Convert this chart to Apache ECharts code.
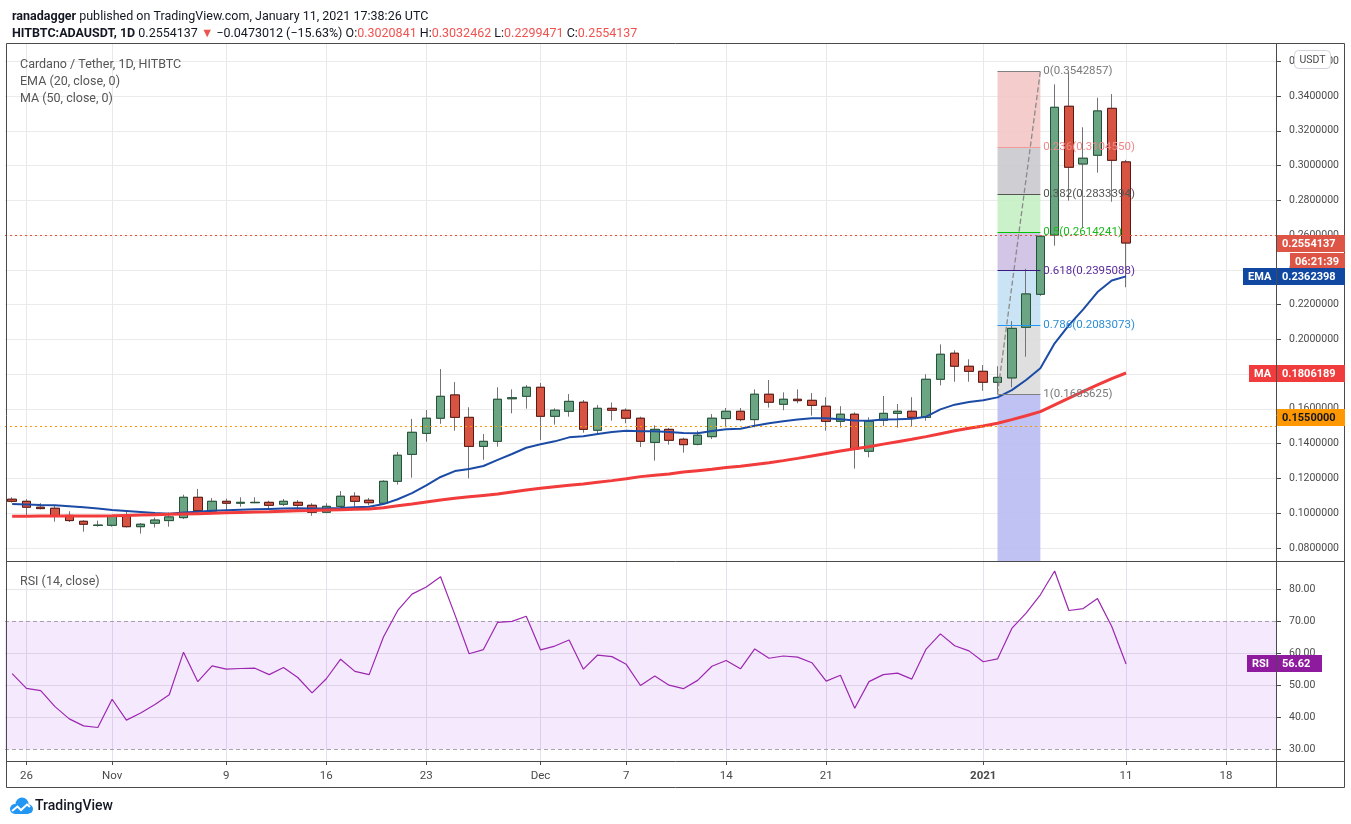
<!DOCTYPE html>
<html><head><meta charset="utf-8">
<script src="https://cdn.jsdelivr.net/npm/echarts@6/dist/echarts.min.js"></script>
<style>html,body{margin:0;padding:0;background:#fff}#c{width:1351px;height:824px}</style>
</head><body><div id="c"></div>
<script>
const dates = [
'2020-10-25','2020-10-26','2020-10-27','2020-10-28','2020-10-29','2020-10-30','2020-10-31',
'2020-11-01','2020-11-02','2020-11-03','2020-11-04','2020-11-05','2020-11-06','2020-11-07','2020-11-08','2020-11-09','2020-11-10',
'2020-11-11','2020-11-12','2020-11-13','2020-11-14','2020-11-15','2020-11-16','2020-11-17','2020-11-18','2020-11-19','2020-11-20',
'2020-11-21','2020-11-22','2020-11-23','2020-11-24','2020-11-25','2020-11-26','2020-11-27','2020-11-28','2020-11-29','2020-11-30',
'2020-12-01','2020-12-02','2020-12-03','2020-12-04','2020-12-05','2020-12-06','2020-12-07','2020-12-08','2020-12-09','2020-12-10',
'2020-12-11','2020-12-12','2020-12-13','2020-12-14','2020-12-15','2020-12-16','2020-12-17','2020-12-18','2020-12-19','2020-12-20',
'2020-12-21','2020-12-22','2020-12-23','2020-12-24','2020-12-25','2020-12-26','2020-12-27','2020-12-28','2020-12-29','2020-12-30','2020-12-31',
'2021-01-01','2021-01-02','2021-01-03','2021-01-04','2021-01-05','2021-01-06','2021-01-07','2021-01-08','2021-01-09','2021-01-10',
'2021-01-11','2021-01-12','2021-01-13','2021-01-14','2021-01-15','2021-01-16','2021-01-17','2021-01-18','2021-01-19','2021-01-20','2021-01-21'
];
const candleOpen = [0.1080,0.1068,0.1034,0.1028,0.0987,0.0953,0.0929,0.0930,0.0982,0.0922,0.0942,0.0957,0.0974,0.1091,0.1011,0.1068,0.1057,0.1060,0.1062,0.1051,0.1062,0.1045,0.1005,0.1039,0.1097,0.1074,0.1057,0.1183,0.1338,0.1459,0.1546,0.1680,0.1551,0.1384,0.1413,0.1658,0.1672,0.1724,0.1557,0.1586,0.1638,0.1477,0.1603,0.1592,0.1546,0.1407,0.1482,0.1425,0.1396,0.1440,0.1544,0.1586,0.1538,0.1684,0.1626,0.1655,0.1649,0.1615,0.1528,0.1569,0.1356,0.1534,0.1574,0.1586,0.1551,0.1770,0.1920,0.1845,0.1816,0.1753,0.1778,0.2069,0.2259,0.2600,0.3341,0.3009,0.3059,0.3329,0.3020841];
const candleClose = [0.1068,0.1034,0.1026,0.0985,0.0957,0.0936,0.0931,0.0982,0.0922,0.0936,0.0960,0.0978,0.1091,0.1014,0.1068,0.1057,0.1062,0.1062,0.1045,0.1068,0.1045,0.1005,0.1039,0.1097,0.1068,0.1060,0.1183,0.1333,0.1465,0.1546,0.1672,0.1551,0.1384,0.1413,0.1655,0.1664,0.1724,0.1557,0.1592,0.1643,0.1482,0.1603,0.1592,0.1546,0.1413,0.1482,0.1419,0.1394,0.1448,0.1546,0.1586,0.1538,0.1684,0.1638,0.1655,0.1647,0.1620,0.1528,0.1569,0.1367,0.1528,0.1574,0.1586,0.1551,0.1770,0.1914,0.1845,0.1816,0.1753,0.1781,0.2063,0.2261,0.2593,0.3335,0.2990,0.3042,0.3314,0.3030,0.2554137];
const candleLow = [0.1060,0.0989,0.1022,0.0951,0.0949,0.0893,0.0922,0.0922,0.0917,0.0882,0.0917,0.0922,0.0966,0.0989,0.0999,0.1009,0.1037,0.1057,0.1026,0.1041,0.1014,0.0985,0.0999,0.1022,0.1022,0.1045,0.1049,0.1164,0.1204,0.1411,0.1514,0.1474,0.1200,0.1307,0.1382,0.1574,0.1601,0.1421,0.1509,0.1555,0.1463,0.1459,0.1532,0.1517,0.1380,0.1302,0.1394,0.1348,0.1390,0.1426,0.1494,0.1528,0.1494,0.1607,0.1592,0.1632,0.1561,0.1474,0.1492,0.1256,0.1321,0.1501,0.1492,0.1500,0.1532,0.1735,0.1756,0.1756,0.1704,0.1686,0.1724,0.1900,0.2250,0.2539,0.2798,0.2639,0.2959,0.2792,0.2299471];
const candleHigh = [0.1091,0.1080,0.1057,0.1041,0.1011,0.0960,0.0957,0.0987,0.1007,0.0942,0.0974,0.1003,0.1106,0.1139,0.1087,0.1083,0.1091,0.1091,0.1071,0.1081,0.1075,0.1057,0.1057,0.1127,0.1120,0.1087,0.1189,0.1352,0.1542,0.1593,0.1829,0.1754,0.1609,0.1455,0.1724,0.1712,0.1737,0.1749,0.1603,0.1685,0.1651,0.1622,0.1636,0.1603,0.1555,0.1505,0.1490,0.1434,0.1474,0.1570,0.1605,0.1605,0.1712,0.1766,0.1695,0.1712,0.1691,0.1667,0.1615,0.1580,0.1551,0.1674,0.1628,0.1667,0.1799,0.1971,0.1937,0.1885,0.1852,0.1845,0.2105,0.2406,0.2600,0.3467,0.3543,0.3220,0.3390,0.3411,0.3032462];
const ema20 = [0.1052,0.1050,0.1047,0.1045,0.1040,0.1034,0.1026,0.1018,0.1012,0.1006,0.1000,0.0997,0.1003,0.1008,0.1014,0.1017,0.1020,0.1022,0.1024,0.1026,0.1028,0.1027,0.1028,0.1030,0.1034,0.1037,0.1052,0.1080,0.1115,0.1160,0.1208,0.1242,0.1254,0.1271,0.1306,0.1340,0.1376,0.1396,0.1413,0.1436,0.1442,0.1455,0.1467,0.1474,0.1471,0.1471,0.1467,0.1461,0.1460,0.1473,0.1482,0.1486,0.1503,0.1517,0.1528,0.1538,0.1546,0.1546,0.1540,0.1533,0.1532,0.1538,0.1540,0.1543,0.1555,0.1597,0.1624,0.1639,0.1649,0.1666,0.1708,0.1766,0.1833,0.1977,0.2082,0.2172,0.2272,0.2338,0.2362398];
const ma50 = [0.0982,0.0982,0.0983,0.0983,0.0983,0.0984,0.0984,0.0985,0.0987,0.0989,0.0991,0.0993,0.0995,0.0997,0.0999,0.1002,0.1004,0.1006,0.1008,0.1011,0.1013,0.1015,0.1018,0.1020,0.1022,0.1024,0.1031,0.1042,0.1052,0.1064,0.1075,0.1085,0.1094,0.1102,0.1110,0.1122,0.1133,0.1143,0.1152,0.1160,0.1168,0.1178,0.1187,0.1198,0.1210,0.1218,0.1225,0.1236,0.1244,0.1252,0.1262,0.1270,0.1280,0.1290,0.1302,0.1315,0.1329,0.1343,0.1357,0.1370,0.1382,0.1397,0.1411,0.1425,0.1440,0.1457,0.1474,0.1488,0.1501,0.1517,0.1538,0.1560,0.1584,0.1623,0.1662,0.1700,0.1738,0.1774,0.1806189];
const rsi14 = [53.6,49.0,48.3,43.3,39.5,37.3,36.8,45.6,39.1,41.3,44.0,47.0,60.3,51.1,56.0,55.0,55.2,55.3,53.3,55.5,52.4,47.6,52.0,58.1,54.3,53.3,65.0,73.3,78.4,80.6,83.8,72.0,59.8,61.1,69.6,69.9,71.5,61.0,62.2,64.1,55.0,59.4,58.9,56.5,49.9,52.9,50.0,48.9,51.5,55.9,57.7,55.1,61.3,58.4,59.1,58.75,57.0,51.25,53.1,42.8,51.1,53.3,53.75,51.9,61.25,66.0,62.3,60.7,57.3,58.2,67.7,72.5,78.2,85.6,73.3,73.9,77.0,68.3,56.62];
const tickDates = ['2020-10-26','2020-11-01','2020-11-09','2020-11-16','2020-11-23','2020-12-01','2020-12-07','2020-12-14','2020-12-21','2021-01-01','2021-01-11','2021-01-18'];
const tickLabels = ['26','Nov','9','16','23','Dec','7','14','21','2021','11','18'];
const priceTicks = [0.08,0.10,0.12,0.14,0.16,0.18,0.20,0.22,0.24,0.26,0.28,0.30,0.32,0.34,0.36];
const rsiTicks = [30,40,50,60,70,80];
const rsiBand = [30,70];
const fibRatios = ['0','0.236','0.382','0.5','0.618','0.786','1'];
const fibValues = [0.3542857,0.3104550,0.2833394,0.2614241,0.2395088,0.2083073,0.1685625];
const fibStart = '2021-01-02', fibEnd = '2021-01-05';
const lastPrice = 0.2554137, userLine = 0.155, emaLast = 0.2362398, maLast = 0.1806189, rsiLast = 56.62;
const countdown = '06:21:39';
const priceMin = 0.07245, priceMax = 0.36992, rsiMin = 26.35, rsiMax = 88.42;

const FONT = 'Roboto, "Noto Sans", sans-serif';
const chart = echarts.init(document.getElementById('c'), null, {renderer: 'canvas'});

const ohlc = candleOpen.map((o, i) => [o, candleClose[i], candleLow[i], candleHigh[i]]);
const bodies = candleOpen.map((o, i) => [o, candleClose[i], Math.min(o, candleClose[i]), Math.max(o, candleClose[i])]);

const fibFill = ['#f4c6c6','#cacace','#c4efc4','#cdbfe3','#c4e1f4','#dcdcdc','#b9bbf2'];
const fibLine = ['#808080','#f29a9a','#555555','#00c400','#3d1a80','#2196f3','#808080'];
const fibText = ['#7a7a7a','#f08888','#555555','#1db81d','#5a2a9c','#2d8fd8','#7a7a7a'];
const fibBottoms = fibValues.slice(1).concat([priceMin]);

const vGrid = tickDates.map(d => ({xAxis: d}));

const option = {
  animation: false,
  backgroundColor: '#ffffff',
  title: [
    {left: 7, top: 5, text: '{b|ranadagger} published on TradingView.com, January 11, 2021 17:38:26 UTC',
     textStyle: {fontFamily: FONT, fontSize: 12.5, fontWeight: 'normal', color: '#131722',
       rich: {b: {fontFamily: FONT, fontSize: 12.5, fontWeight: 'bold', color: '#131722'}}}},
    {left: 7, top: 22, text: '{b|HITBTC:ADAUSDT, 1D} 0.2554137 {r|▼} −0.0473012 (−15.63%) O:{r|0.3020841} H:{r|0.3032462} L:{r|0.2299471} C:{r|0.2554137}',
     textStyle: {fontFamily: FONT, fontSize: 12.5, fontWeight: 'normal', color: '#131722',
       rich: {b: {fontFamily: FONT, fontSize: 12.5, fontWeight: 'bold', color: '#131722'},
              r: {fontFamily: FONT, fontSize: 12.5, color: '#ef5350'}}}},
    {left: 15, top: 53, text: 'Cardano / Tether, 1D, HITBTC', textStyle: {fontFamily: FONT, fontSize: 12.5, fontWeight: 'normal', color: '#555'}},
    {left: 15, top: 70, text: 'EMA (20, close, 0)', textStyle: {fontFamily: FONT, fontSize: 12.5, fontWeight: 'normal', color: '#555'}},
    {left: 15, top: 87, text: 'MA (50, close, 0)', textStyle: {fontFamily: FONT, fontSize: 12.5, fontWeight: 'normal', color: '#555'}},
    {left: 15, top: 570, text: 'RSI (14, close)', textStyle: {fontFamily: FONT, fontSize: 12.5, fontWeight: 'normal', color: '#555'}}
  ],
  grid: [
    {left: 5, right: 75, top: 44, height: 517},
    {left: 5, right: 75, top: 562, height: 199}
  ],
  xAxis: [
    {type: 'category', gridIndex: 0, data: dates, boundaryGap: true,
     axisLine: {show: false}, axisTick: {show: false}, axisLabel: {show: false}, splitLine: {show: false}},
    {type: 'category', gridIndex: 1, data: dates, boundaryGap: true,
     axisLine: {show: false},
     axisTick: {show: true, alignWithLabel: true, length: 4, interval: (i, v) => tickDates.includes(v), lineStyle: {color: '#4a4a4a'}},
     axisLabel: {show: true, interval: (i, v) => tickDates.includes(v), margin: 9, color: '#4a4a4a', fontFamily: FONT, fontSize: 11.5,
       formatter: v => { const k = tickDates.indexOf(v); if (k < 0) return ''; return tickLabels[k] === '2021' ? '{b|2021}' : tickLabels[k]; },
       rich: {b: {fontWeight: 'bold', color: '#4a4a4a', fontFamily: FONT, fontSize: 11.5}}},
     splitLine: {show: false}}
  ],
  yAxis: [
    {type: 'value', gridIndex: 0, position: 'right', min: priceMin, max: priceMax, scale: true,
     axisLine: {show: false},
     axisTick: {show: true, customValues: priceTicks, length: 5, lineStyle: {color: '#4a4a4a'}},
     axisLabel: {customValues: priceTicks, formatter: v => v.toFixed(7), color: '#4a4a4a', fontFamily: FONT, fontSize: 10.5, margin: 13},
     splitLine: {show: true, lineStyle: {color: '#ebebeb', width: 1}}},
    {type: 'value', gridIndex: 1, position: 'right', min: rsiMin, max: rsiMax, scale: true,
     axisLine: {show: false},
     axisTick: {show: true, customValues: rsiTicks, length: 5, lineStyle: {color: '#4a4a4a'}},
     axisLabel: {customValues: rsiTicks, formatter: v => v.toFixed(2), color: '#4a4a4a', fontFamily: FONT, fontSize: 10.5, margin: 13},
     splitLine: {show: true, lineStyle: {color: ['rgba(0,0,0,0)','#e6e6e6','#e6e6e6','#e6e6e6','rgba(0,0,0,0)','#e6e6e6'], width: 1}}}
  ],
  series: [
    {name: 'EMA', type: 'line', xAxisIndex: 0, yAxisIndex: 0, data: ema20, symbol: 'none',
     lineStyle: {color: '#1c4ba6', width: 2}, z: 3,
     markLine: {silent: true, symbol: 'none', z: 0, label: {show: false}, lineStyle: {color: '#e9e9e9', width: 1, type: 'solid'}, data: vGrid}},
    {name: 'wicks', type: 'candlestick', xAxisIndex: 0, yAxisIndex: 0, data: ohlc, barWidth: 9, z: 2,
     itemStyle: {color: '#6ba583', color0: '#d75442', borderColor: '#737375', borderColor0: '#737375', borderWidth: 1},
     markArea: {silent: true, z: 1,
       data: fibValues.map((v, i) => [{xAxis: fibStart, yAxis: v, itemStyle: {color: fibFill[i], opacity: 0.9}}, {xAxis: fibEnd, yAxis: fibBottoms[i]}])},
     markLine: {silent: true, symbol: 'none', z: 4,
       data: [
         [{coord: [fibStart, fibValues[6]], lineStyle: {color: '#8a8a8a', type: 'dashed', width: 1.3}, label: {show: false}}, {coord: [fibEnd, fibValues[0]]}]
       ].concat(fibValues.map((v, i) => [
         {coord: [fibStart, v], lineStyle: {color: fibLine[i], type: 'solid', width: 1},
          label: {show: true, position: 'end', distance: 3, formatter: fibRatios[i] + '(' + v.toFixed(7) + ')', color: fibText[i], fontFamily: FONT, fontSize: 11.5}},
         {coord: [fibEnd, v]}]))}},
    {name: 'bodies', type: 'candlestick', xAxisIndex: 0, yAxisIndex: 0, data: bodies, barWidth: 9, z: 2,
     itemStyle: {color: '#6ba583', color0: '#d75442', borderColor: '#225437', borderColor0: '#5b1a13', borderWidth: 1},
     markLine: {silent: true, symbol: 'none', z: 4, label: {show: false},
       lineStyle: {color: '#ff9800', type: [2, 3], width: 1, opacity: 1}, data: [{yAxis: userLine}]}},
    {name: 'MA', type: 'line', xAxisIndex: 0, yAxisIndex: 0, data: ma50, symbol: 'none', z: 3,
     lineStyle: {color: '#f23b3b', width: 3},
     markLine: {silent: true, symbol: 'none', z: 4, label: {show: false},
       lineStyle: {color: '#e0533f', type: [2, 3], width: 1, opacity: 1}, data: [{yAxis: lastPrice}]}},
    {name: 'RSI', type: 'line', xAxisIndex: 1, yAxisIndex: 1, data: rsi14, symbol: 'none', z: 3,
     lineStyle: {color: '#9c27b0', width: 1.2},
     markArea: {silent: true, z: 1, itemStyle: {color: 'rgba(160, 60, 240, 0.11)'}, data: [[{yAxis: rsiBand[1]}, {yAxis: rsiBand[0]}]]},
     markLine: {silent: true, symbol: 'none', z: 0, label: {show: false},
       data: vGrid.map(g => Object.assign({}, g, {lineStyle: {color: '#e6e0ee', width: 1, type: 'solid'}}))
         .concat(rsiBand.map(v => ({yAxis: v, lineStyle: {color: '#aaaaaa', width: 1, type: [4, 3]}})))}}
  ]
};
chart.setOption(option);

const yP = v => chart.convertToPixel({yAxisIndex: 0}, v);
const yR = v => chart.convertToPixel({yAxisIndex: 1}, v);
function badge(x, yc, w, h, fill, text, color) {
  const top = Math.round(yc - h / 2);
  return [
    {type: 'rect', z: 100, shape: {x: x, y: top, width: w, height: h}, style: {fill: fill}},
    {type: 'text', z: 101, style: {text: text, x: x + 5, y: top + h / 2 + 0.5, fill: color, font: 'bold 11px Roboto, sans-serif', align: 'left', verticalAlign: 'middle'}}
  ];
}
const AX = 1277, AW = 68, BH = 17;
const yLast = yP(lastPrice), yEma = yP(emaLast), yMa = yP(maLast), yUser = yP(userLine), yRsi = yR(rsiLast);
const graphics = [].concat(
  [{type: 'rect', z: 90, shape: {x: 6.5, y: 43.5, width: 1338, height: 744}, style: {fill: 'none', stroke: '#4a4a4a', lineWidth: 1}},
   {type: 'line', z: 90, shape: {x1: 6.5, y1: 561.5, x2: 1344.5, y2: 561.5}, style: {stroke: '#4a4a4a', lineWidth: 1}},
   {type: 'line', z: 90, shape: {x1: 6.5, y1: 761.5, x2: 1344.5, y2: 761.5}, style: {stroke: '#4a4a4a', lineWidth: 1}},
   {type: 'line', z: 90, shape: {x1: 1276.5, y1: 43.5, x2: 1276.5, y2: 787.5}, style: {stroke: '#4a4a4a', lineWidth: 1}}],
  badge(AX, yLast, AW, BH, '#de5546', lastPrice.toFixed(7), '#ffffff'),
  badge(1290, yLast + 18, 55, BH, '#de5546', countdown, '#ffffff'),
  badge(AX, yEma, AW, BH, '#0f47a1', emaLast.toFixed(7), '#ffffff'),
  badge(1243, yEma, 33, BH, '#0f47a1', 'EMA', '#ffffff'),
  badge(AX, yMa, AW, BH, '#f03c3c', maLast.toFixed(7), '#ffffff'),
  badge(1249, yMa, 27, BH, '#f03c3c', 'MA', '#ffffff'),
  badge(AX, yUser, AW, BH, '#ff9800', userLine.toFixed(7), '#131722'),
  badge(AX, yRsi, 45, BH, '#8e1b9d', rsiLast.toFixed(2), '#ffffff'),
  badge(1247, yRsi, 29, BH, '#8e1b9d', 'RSI', '#ffffff'),
  [{type: 'rect', z: 100, shape: {x: 1294.5, y: 50.5, width: 36, height: 18, r: 4}, style: {fill: '#ffffff', stroke: '#d0d3da', lineWidth: 1}},
   {type: 'text', z: 101, style: {text: 'USDT', x: 1312.5, y: 60, fill: '#4a4a4a', font: '10.5px Roboto, sans-serif', align: 'center', verticalAlign: 'middle'}},
   {type: 'circle', z: 100, shape: {cx: 15, cy: 809, r: 5}, style: {fill: '#2196f3'}},
   {type: 'circle', z: 100, shape: {cx: 22, cy: 804, r: 6.5}, style: {fill: '#2196f3'}},
   {type: 'circle', z: 100, shape: {cx: 28.5, cy: 809, r: 4.5}, style: {fill: '#2196f3'}},
   {type: 'rect', z: 100, shape: {x: 15, y: 806, width: 13.5, height: 8}, style: {fill: '#2196f3'}},
   {type: 'polyline', z: 101, shape: {points: [[12, 811], [17.5, 806.5], [21, 810], [27, 804.5], [30, 807]]}, style: {stroke: '#ffffff', lineWidth: 2, fill: null}},
   {type: 'text', z: 100, style: {text: 'TradingView', x: 35, y: 806, fill: '#131722', font: '500 14px Roboto, sans-serif', align: 'left', verticalAlign: 'middle'}}]
);
chart.setOption({graphic: {elements: graphics}});
</script>
</body></html>
